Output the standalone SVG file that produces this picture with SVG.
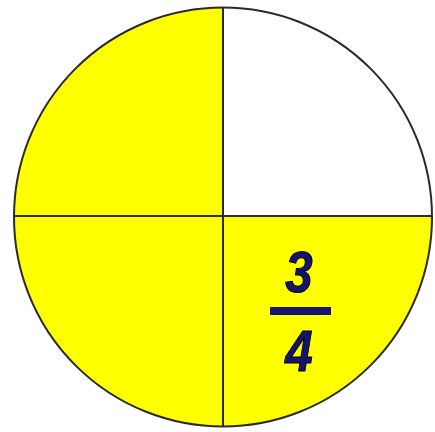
<svg xmlns="http://www.w3.org/2000/svg" width="435" height="432" viewBox="0 0 435 432">
<style>
.num{font-family:"Liberation Sans",Arial,sans-serif;font-weight:bold;font-style:italic;font-size:58px;fill:#14146e;stroke:#000;stroke-width:1;text-anchor:middle}
.ln{stroke:#2a2a2a;stroke-width:2;fill:none}
</style>
<rect width="435" height="432" fill="#fff"/>
<g id="circle">
<path d="M223,217 L223,8 A209,209.5 0 0,0 14,217 A209,209.5 0 0,0 223,426.5 A209,209.5 0 0,0 432,217 Z" fill="#ffff00"/>
<ellipse class="ln" cx="223" cy="217" rx="209" ry="209.5"/>
</g>
<g id="connectors">
<line class="ln" x1="223" y1="8" x2="223" y2="426.5"/>
<line class="ln" x1="14" y1="216" x2="432" y2="216"/>
</g>
<g id="fraction">
<text class="num" transform="translate(299,292) scale(0.85,1)">3</text>
<rect x="270" y="307" width="61" height="8" fill="#14146e"/>
<text class="num" transform="translate(299,371) scale(0.85,1)">4</text>
</g>
</svg>
